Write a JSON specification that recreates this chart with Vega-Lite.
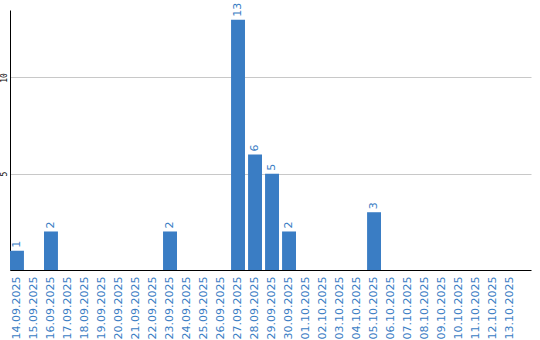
{
  "$schema": "https://vega.github.io/schema/vega-lite/v6.json",
  "autosize": "none",
  "padding": {"left": 10, "top": 10, "right": 9, "bottom": 70},
  "width": 521,
  "height": 260,
  "background": "white",
  "data": {"values": [
    {"date": "14.09.2025", "v": 1},
    {"date": "15.09.2025", "v": 0},
    {"date": "16.09.2025", "v": 2},
    {"date": "17.09.2025", "v": 0},
    {"date": "18.09.2025", "v": 0},
    {"date": "19.09.2025", "v": 0},
    {"date": "20.09.2025", "v": 0},
    {"date": "21.09.2025", "v": 0},
    {"date": "22.09.2025", "v": 0},
    {"date": "23.09.2025", "v": 2},
    {"date": "24.09.2025", "v": 0},
    {"date": "25.09.2025", "v": 0},
    {"date": "26.09.2025", "v": 0},
    {"date": "27.09.2025", "v": 13},
    {"date": "28.09.2025", "v": 6},
    {"date": "29.09.2025", "v": 5},
    {"date": "30.09.2025", "v": 2},
    {"date": "01.10.2025", "v": 0},
    {"date": "02.10.2025", "v": 0},
    {"date": "03.10.2025", "v": 0},
    {"date": "04.10.2025", "v": 0},
    {"date": "05.10.2025", "v": 3},
    {"date": "06.10.2025", "v": 0},
    {"date": "07.10.2025", "v": 0},
    {"date": "08.10.2025", "v": 0},
    {"date": "09.10.2025", "v": 0},
    {"date": "10.10.2025", "v": 0},
    {"date": "11.10.2025", "v": 0},
    {"date": "12.10.2025", "v": 0},
    {"date": "13.10.2025", "v": 0}
  ]},
  "config": {"view": {"stroke": null}},
  "encoding": {
    "x": {
      "field": "date", "type": "nominal", "sort": null,
      "scale": {"paddingInner": 0.18, "paddingOuter": 0.41, "align": 0},
      "axis": {
        "title": null, "labelAngle": -90, "labelColor": "#3a7dc4",
        "labelFont": "DejaVu Sans", "labelFontSize": 11, "labelPadding": 6,
        "ticks": false, "domainColor": "black", "domainWidth": 1,
        "grid": false, "labelBaseline": "middle", "labelAlign": "right"
      }
    },
    "y": {
      "field": "v", "type": "quantitative",
      "scale": {"domain": [0, 13.5], "nice": false},
      "axis": {
        "title": null, "values": [5, 10], "labelAngle": -90,
        "labelFont": "DejaVu Sans Mono", "labelFontSize": 8, "labelColor": "black",
        "labelAlign": "center", "labelBaseline": "bottom", "labelPadding": 2,
        "ticks": false, "domainColor": "black", "domainWidth": 1,
        "grid": true, "gridColor": "#c8c8c8", "gridWidth": 1
      }
    }
  },
  "layer": [
    {"mark": {"type": "bar", "color": "#3a7dc4"}},
    {
      "transform": [{"filter": "datum.v > 0"}],
      "mark": {"type": "text", "angle": -90, "align": "left", "baseline": "middle", "dx": 3, "color": "#3a7dc4", "font": "DejaVu Sans", "fontSize": 11},
      "encoding": {"text": {"field": "v", "type": "quantitative"}}
    }
  ]
}
